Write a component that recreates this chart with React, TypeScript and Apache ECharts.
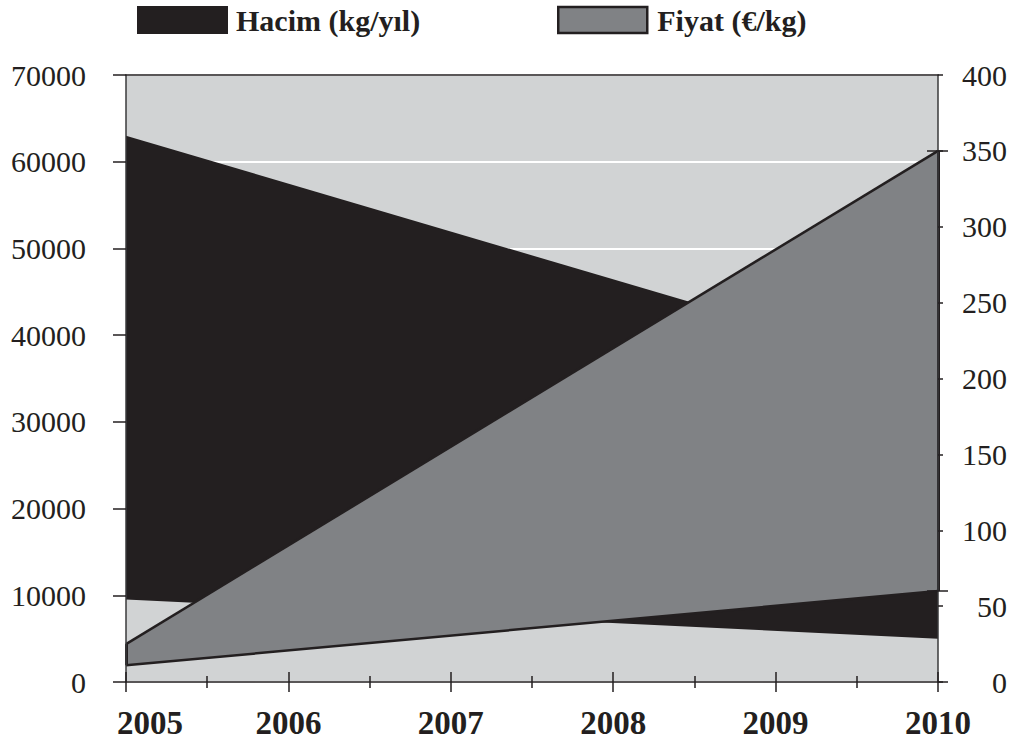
import React, { useEffect, useRef } from "react";
import * as echarts from "echarts";

// ---- data ----
const years = [2005, 2010];
const hacimLower = [9500, 5000];
const hacimUpper = [63000, 35400];
const fiyatLower = [11, 60];
const fiyatUpper = [25, 350];
const hacimName = "Hacim (kg/yıl)";
const fiyatName = "Fiyat (€/kg)";
const xTickYears = [2005, 2006, 2007, 2008, 2009, 2010];
const leftTicks = [0, 10000, 20000, 30000, 40000, 50000, 60000, 70000];
const rightTicks = [0, 50, 100, 150, 200, 250, 300, 350, 400];
const rightMarksOut = [0, 60, 350];
const rightMarksIn = [60, 350];

const BLACK = "#231f20";
const GRAY = "#808285";
const BG = "#d1d3d4";
const AXIS = "#3a3a3b";
const FONT = "'Liberation Serif', 'Times New Roman', serif";

export default function App() {
  const ref = useRef<HTMLDivElement>(null);
  useEffect(() => {
    const chart = echarts.init(ref.current as HTMLDivElement, null, { renderer: "svg" });
    // value first, year second, so that stacking applies to the y dimension
    const pts = (ys: number[]) => years.map((x, i) => [ys[i], x]);
    const diff = (a: number[], b: number[]) => a.map((v, i) => v - b[i]);
    const enc = { x: 1, y: 0 };

    const xMin = xTickYears[0];
    const xMax = xTickYears[xTickYears.length - 1];
    const baseX = {
      type: "value",
      min: xMin,
      max: xMax,
      interval: 1,
      splitLine: { show: false },
      z: 5,
    };
    const tickLine = { color: BLACK, width: 1.5 };
    const yearStyle = { fontFamily: FONT, fontWeight: "bold", fontSize: 33, color: BLACK };

    const option: any = {
      animation: false,
      grid: {
        left: 126,
        right: 75,
        top: 75,
        bottom: 62,
        show: true,
        backgroundColor: BG,
        borderWidth: 0,
        z: 0,
      },
      legend: [
        {
          left: 137,
          top: 5,
          padding: 0,
          itemWidth: 91,
          itemHeight: 28,
          icon: "rect",
          selectedMode: false,
          data: [{ name: hacimName, itemStyle: { color: BLACK, borderWidth: 0 } }],
          textStyle: { fontFamily: FONT, fontWeight: "bold", fontSize: 30, color: BLACK, padding: [0, 0, 0, 3] },
        },
        {
          left: 557,
          top: 5,
          padding: 0,
          itemWidth: 89,
          itemHeight: 26,
          icon: "rect",
          selectedMode: false,
          data: [{ name: fiyatName, itemStyle: { color: GRAY, borderColor: BLACK, borderWidth: 2.5 } }],
          textStyle: { fontFamily: FONT, fontWeight: "bold", fontSize: 30, color: BLACK, padding: [0, 0, 0, 5] },
        },
      ],
      xAxis: [
        {
          ...baseX,
          position: "bottom",
          axisLine: { show: true, onZero: false, lineStyle: { color: BLACK, width: 1.5 } },
          axisTick: { show: true, length: 10, lineStyle: tickLine },
          minorTick: { show: true, splitNumber: 2, length: 6, lineStyle: tickLine },
          axisLabel: {
            show: true,
            margin: 24,
            ...yearStyle,
            formatter: (v: number) => (v === xMin ? "{first|" + v + "}" : String(v)),
            rich: {
              first: { ...yearStyle, padding: [0, 0, 0, 48] },
            },
          },
        },
        {
          ...baseX,
          position: "bottom",
          axisLine: { show: false, onZero: false },
          axisTick: { show: true, inside: true, length: 10, lineStyle: tickLine },
          minorTick: { show: true, splitNumber: 2, length: 6, lineStyle: tickLine },
          axisLabel: { show: false },
        },
        {
          ...baseX,
          position: "top",
          axisLine: { show: true, onZero: false, lineStyle: { color: BLACK, width: 1.5 } },
          axisTick: { show: false },
          axisLabel: { show: false },
        },
      ],
      yAxis: [
        {
          type: "value",
          position: "left",
          min: leftTicks[0],
          max: leftTicks[leftTicks.length - 1],
          interval: 10000,
          z: 5,
          splitLine: { show: false },
          axisLine: { show: true, onZero: false, lineStyle: { color: AXIS, width: 1.5 } },
          axisTick: { show: true, length: 13, lineStyle: tickLine },
          axisLabel: {
            margin: 40,
            fontFamily: FONT,
            fontSize: 30,
            color: BLACK,
            formatter: (v: number) => String(v),
          },
        },
        {
          type: "value",
          position: "right",
          min: rightTicks[0],
          max: rightTicks[rightTicks.length - 1],
          interval: 50,
          z: 5,
          splitLine: { show: false },
          axisLine: { show: true, onZero: false, lineStyle: { color: AXIS, width: 1.5 } },
          axisTick: { show: true, length: 5, lineStyle: tickLine },
          axisLabel: {
            margin: 69,
            align: "right",
            fontFamily: FONT,
            fontSize: 30,
            color: BLACK,
            formatter: (v: number) => String(v),
          },
        },
        {
          type: "value",
          position: "left",
          min: leftTicks[0],
          max: leftTicks[leftTicks.length - 1],
          interval: 10000,
          z: 1,
          splitLine: { show: true, lineStyle: { color: "#ffffff", width: 2 } },
          axisLine: { show: false, onZero: false },
          axisTick: { show: false },
          axisLabel: { show: false },
        },
        {
          type: "value",
          position: "right",
          min: rightTicks[0],
          max: rightTicks[rightTicks.length - 1],
          z: 5,
          splitLine: { show: false },
          axisLine: { show: false, onZero: false },
          axisTick: { show: true, length: 10, customValues: rightMarksOut, lineStyle: tickLine },
          axisLabel: { show: false },
        },
        {
          type: "value",
          position: "right",
          min: rightTicks[0],
          max: rightTicks[rightTicks.length - 1],
          z: 5,
          splitLine: { show: false },
          axisLine: { show: false, onZero: false },
          axisTick: { show: true, inside: true, length: 11, customValues: rightMarksIn, lineStyle: tickLine },
          axisLabel: { show: false },
        },
      ],
      series: [
        {
          name: "hacimBase",
          type: "line",
          xAxisIndex: 0,
          yAxisIndex: 0,
          stack: "hacim",
          encode: enc,
          data: pts(hacimLower),
          symbol: "none",
          silent: true,
          lineStyle: { opacity: 0, width: 0 },
          itemStyle: { color: BLACK },
          z: 2,
        },
        {
          name: hacimName,
          type: "line",
          xAxisIndex: 0,
          yAxisIndex: 0,
          stack: "hacim",
          encode: enc,
          data: pts(diff(hacimUpper, hacimLower)),
          symbol: "none",
          lineStyle: { width: 0, color: BLACK },
          itemStyle: { color: BLACK },
          areaStyle: { color: BLACK, opacity: 1 },
          z: 2,
        },
        {
          name: "fiyatBase",
          type: "line",
          xAxisIndex: 0,
          yAxisIndex: 1,
          stack: "fiyat",
          encode: enc,
          data: pts(fiyatLower),
          symbol: "none",
          silent: true,
          lineStyle: { color: BLACK, width: 2.5 },
          itemStyle: { color: BLACK },
          z: 3,
        },
        {
          name: fiyatName,
          type: "line",
          xAxisIndex: 0,
          yAxisIndex: 1,
          stack: "fiyat",
          encode: enc,
          data: pts(diff(fiyatUpper, fiyatLower)),
          symbol: "none",
          lineStyle: { color: BLACK, width: 2.5 },
          itemStyle: { color: GRAY },
          areaStyle: { color: GRAY, opacity: 1 },
          z: 2,
          markLine: {
            silent: true,
            symbol: ["none", "none"],
            label: { show: false },
            lineStyle: { color: BLACK, width: 3, type: "solid" },
            data: years.map((y, i) => [
              { coord: [y, fiyatLower[i]] },
              { coord: [y, fiyatUpper[i]] },
            ]),
          },
        },
      ],
    };
    chart.setOption(option);
    return () => chart.dispose();
  }, []);

  return (
    <div
      ref={ref}
      style={{ position: "fixed", left: 0, top: 0, width: 1013, height: 744, background: "#ffffff" }}
    />
  );
}
